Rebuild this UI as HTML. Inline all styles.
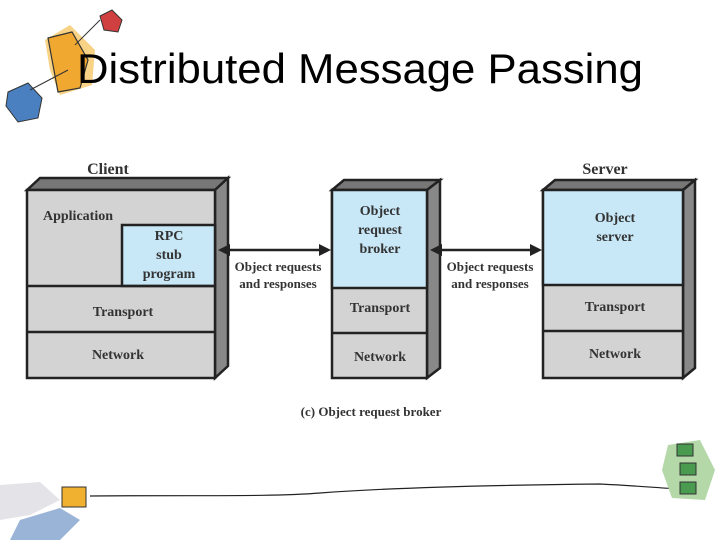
<!DOCTYPE html>
<html><head><style>body{margin:0;background:#fff}svg{display:block}</style></head><body>
<svg width="720" height="540" xmlns="http://www.w3.org/2000/svg" font-family="Liberation Serif, serif" font-weight="bold">
<path d="M45,40 L70,25 L95,50 L92,85 L60,95 L50,70 Z" fill="#f6c766" opacity="0.8"/>
<path d="M48,38 L72,32 L88,60 L80,88 L58,92 Z" fill="#f0a830" stroke="#333" stroke-width="1.2"/>
<path d="M100,16 L112,10 L122,20 L118,32 L104,30 Z" fill="#d04040" stroke="#333"/>
<path d="M8,92 L28,83 L42,98 L38,118 L18,122 L6,106 Z" fill="#4a80c0" stroke="#333"/>
<line x1="30" y1="90" x2="68" y2="70" stroke="#333"/>
<line x1="75" y1="45" x2="100" y2="20" stroke="#333"/>
<text x="77" y="83" font-family="Liberation Sans, sans-serif" font-weight="normal" font-size="42" textLength="566" lengthAdjust="spacingAndGlyphs" fill="#000">Distributed Message Passing</text>

<g stroke="#222" stroke-width="2.5">
<polygon points="27,190 40,178 228,178 215,190" fill="#777"/>
<polygon points="215,190 228,178 228,366 215,378" fill="#888"/>
<rect x="27" y="190" width="188" height="188" fill="#d3d3d3"/>
<rect x="122" y="225" width="93" height="61" fill="#c8e8f8"/>
<line x1="27" y1="286" x2="215" y2="286"/><line x1="27" y1="332" x2="215" y2="332"/>
<polygon points="332,190 344,180 440,180 427,190" fill="#777"/>
<polygon points="427,190 440,180 440,368 427,378" fill="#888"/>
<rect x="332" y="190" width="95" height="188" fill="#d3d3d3"/>
<rect x="332" y="190" width="95" height="98" fill="#c8e8f8"/>
<line x1="332" y1="333" x2="427" y2="333"/>
<polygon points="543,190 555,180 695,180 683,190" fill="#777"/>
<polygon points="683,190 695,180 695,368 683,378" fill="#888"/>
<rect x="543" y="190" width="140" height="188" fill="#d3d3d3"/>
<rect x="543" y="190" width="140" height="95" fill="#c8e8f8"/>
<line x1="543" y1="331" x2="683" y2="331"/>
<line x1="226" y1="250" x2="322" y2="250" stroke-width="2.5"/>
<line x1="439" y1="250" x2="533" y2="250" stroke-width="2.5"/>
</g>
<g fill="#222">
<polygon points="218,250 230,244 230,256"/><polygon points="331,250 319,244 319,256"/>
<polygon points="430,250 442,244 442,256"/><polygon points="542,250 530,244 530,256"/>
</g>
<g fill="#333" font-size="14" text-anchor="middle">
<text x="108" y="174" font-size="16">Client</text>
<text x="605" y="174" font-size="16">Server</text>
<text x="78" y="220" font-size="14">Application</text>
<text x="169" y="240">RPC</text><text x="169" y="259">stub</text><text x="169" y="278">program</text>
<text x="123" y="316">Transport</text><text x="118" y="359">Network</text>
<text x="380" y="215">Object</text><text x="380" y="234">request</text><text x="380" y="253">broker</text>
<text x="380" y="312">Transport</text><text x="380" y="361">Network</text>
<text x="615" y="222">Object</text><text x="615" y="241">server</text>
<text x="615" y="311">Transport</text><text x="615" y="358">Network</text>
<text x="278" y="271" font-size="13">Object requests</text><text x="278" y="288" font-size="13">and responses</text>
<text x="490" y="271" font-size="13">Object requests</text><text x="490" y="288" font-size="13">and responses</text>
<text x="371" y="416" font-size="13">(c) Object request broker</text>
</g>
<path d="M0,485 L40,482 L60,500 L30,515 L0,520 Z" fill="#e4e4e8"/>
<path d="M20,520 L60,508 L80,520 L60,540 L10,540 Z" fill="#9ab4d8"/>
<rect x="62" y="487" width="24" height="20" fill="#f0b030" stroke="#333"/>
<path d="M90,496 C200,495 270,497 320,493 C400,487 500,485 600,484 C640,486 660,488 680,489" fill="none" stroke="#222" stroke-width="1.2"/>
<path d="M668,445 L700,440 L715,470 L705,500 L672,498 L662,470 Z" fill="#b4d8a8"/>
<rect x="677" y="444" width="16" height="12" fill="#4a9a50" stroke="#333"/>
<rect x="680" y="463" width="16" height="12" fill="#4a9a50" stroke="#333"/>
<rect x="680" y="482" width="16" height="12" fill="#4a9a50" stroke="#333"/>
</svg>
</body></html>
